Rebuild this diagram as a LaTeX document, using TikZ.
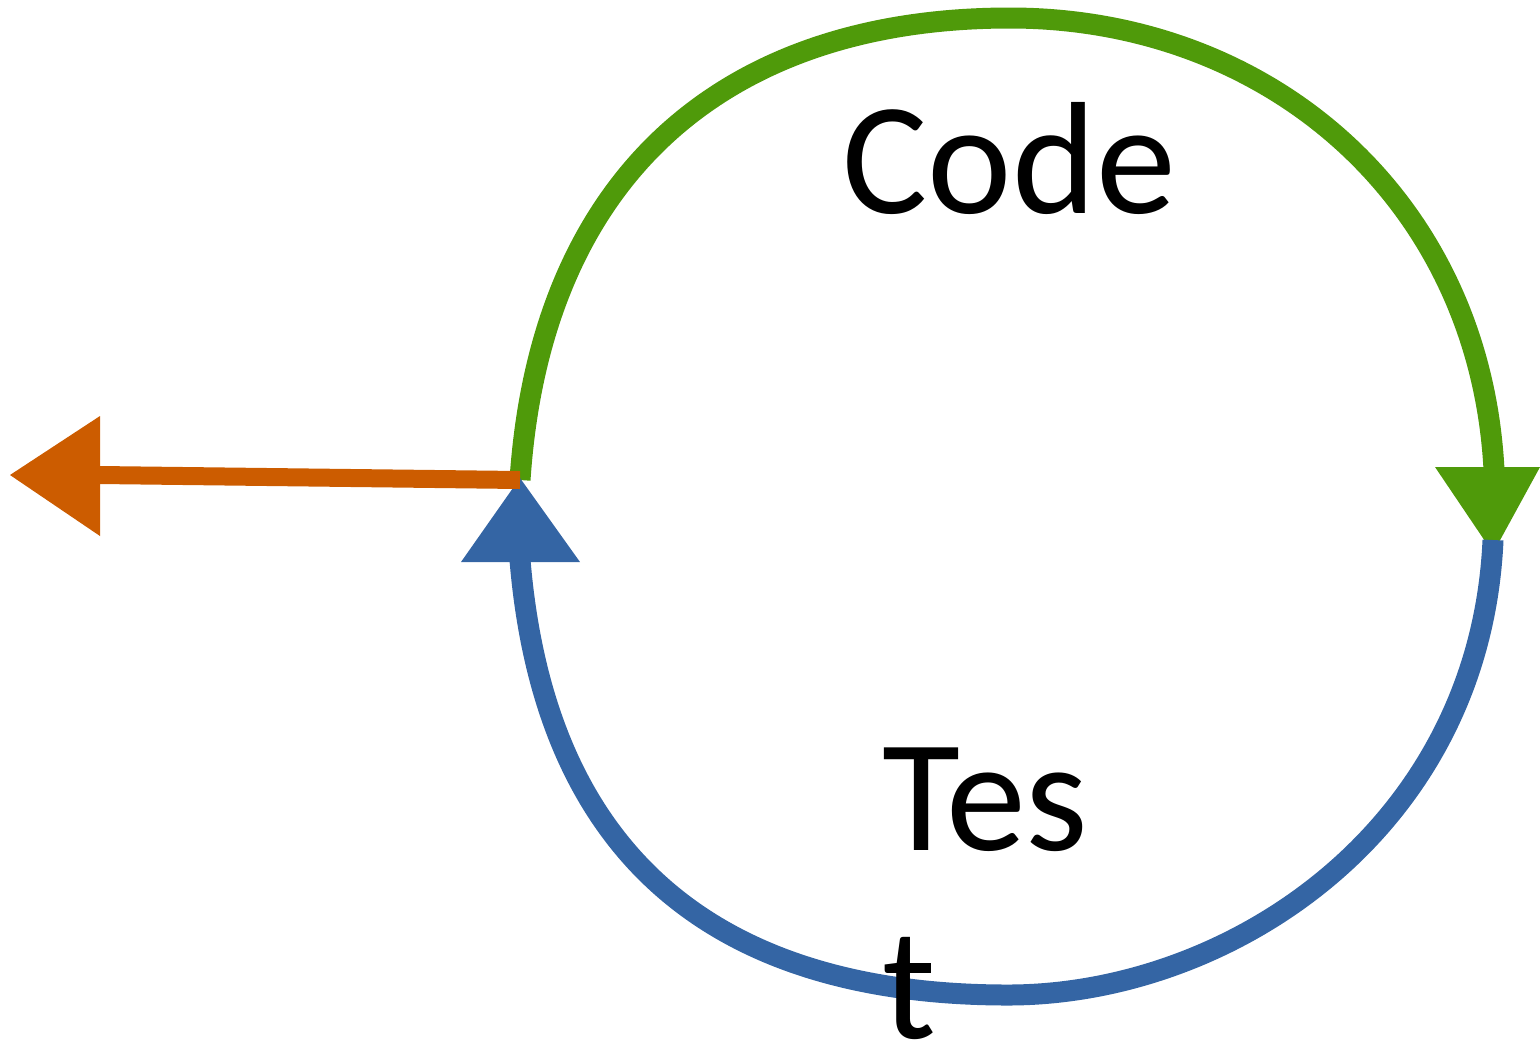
\documentclass[tikz,border=0pt]{standalone}
\usepackage{fontspec}
\setmainfont{Carlito}
\definecolor{cgreen}{HTML}{4F9A0A}
\definecolor{cblue}{HTML}{3465A4}
\definecolor{corange}{HTML}{CC5C00}
\begin{document}
\begin{tikzpicture}[x=0.5pt,y=-0.5pt,
  arc/.style={line width=10.5pt},
  lbl/.style={inner sep=0pt,font=\fontsize{80}{94}\selectfont,align=left}]
\useasboundingbox (0,0) rectangle (1540,1046);
\coordinate (L) at (520,480);
\coordinate (T) at (1010,18);
\coordinate (R) at (1494,470);
\coordinate (R2) at (1493,540);
\coordinate (B) at (1008,995);
\coordinate (L2) at (520,560);
% green arc
\draw[arc,cgreen] (L) .. controls (540,180) and (720,18) .. (T)
  .. controls (1270,18) and (1480,200) .. (R);
\fill[cgreen] (1435,467) -- (1540,467) -- (1493,553) -- cycle;
% blue arc
\draw[arc,cblue] (R2) .. controls (1480,830) and (1230,995) .. (B)
  .. controls (720,995) and (545,860) .. (L2);
\fill[cblue] (461,562) -- (580,562) -- (520,478) -- cycle;
% orange arrow
\coordinate (O) at (100,475);
\draw[line width=9pt,corange] (L) -- (O);
\fill[corange] (10,475) -- (100,416) -- (100,536) -- cycle;
% labels
\node[lbl,anchor=base west] (code) at (842,213) {Code};
\node[lbl,anchor=base west] (test) at (882,1038) {Tes\\t};
\end{tikzpicture}
\end{document}
